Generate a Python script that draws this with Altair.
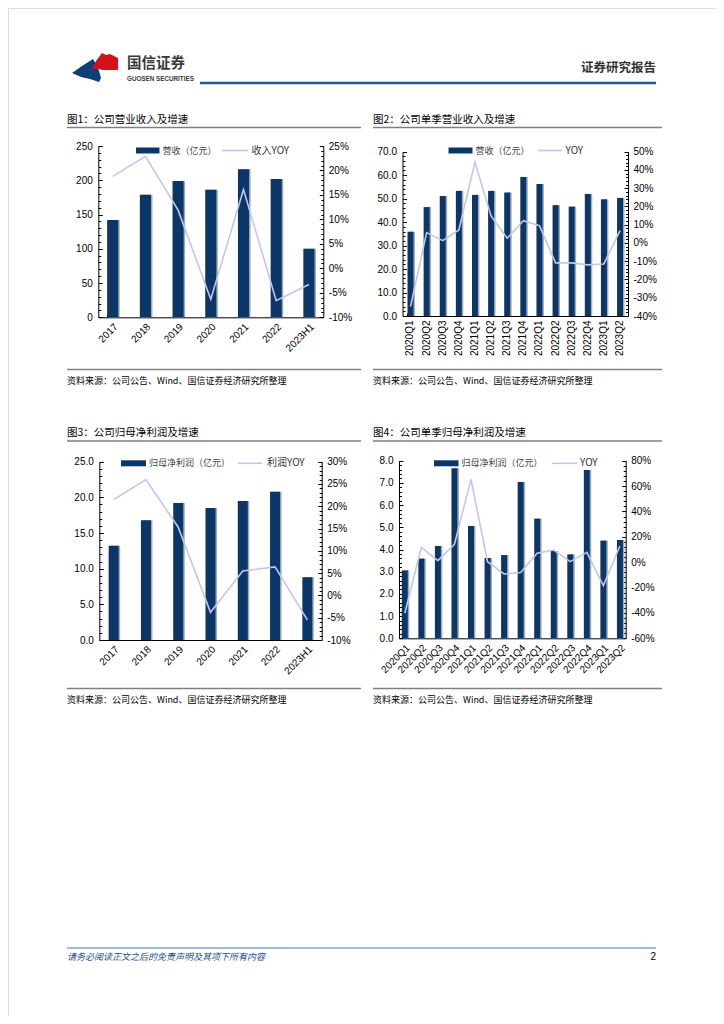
import altair as alt
import numpy as np
import pandas as pd

# ---------------- data ----------------
years = ["2017", "2018", "2019", "2020", "2021", "2022", "2023H1"]
quarters = ["2020Q1", "2020Q2", "2020Q3", "2020Q4", "2021Q1", "2021Q2", "2021Q3",
            "2021Q4", "2022Q1", "2022Q2", "2022Q3", "2022Q4", "2023Q1", "2023Q2"]

annual_revenue = [142, 179, 199, 186, 216, 202, 100]
annual_revenue_yoy = [0.188, 0.229, 0.119, -0.063, 0.161, -0.066, -0.033]

quarterly_revenue = [35.9, 46.4, 51.1, 53.3, 51.6, 53.3, 52.6, 59.2, 56.2, 47.2, 46.6, 52.0, 49.7, 50.3]
quarterly_revenue_yoy = [-0.349, 0.057, 0.013, 0.071, 0.442, 0.148, 0.026, 0.122, 0.095,
                         -0.109, -0.109, -0.120, -0.115, 0.068]

annual_profit = [13.2, 16.8, 19.2, 18.5, 19.5, 20.8, 8.8]
annual_profit_yoy = [0.215, 0.260, 0.153, -0.038, 0.055, 0.064, -0.055]

quarterly_profit = [3.06, 3.59, 4.16, 7.66, 5.06, 3.62, 3.75, 7.04, 5.39, 3.93, 3.78, 7.58, 4.40, 4.43]
quarterly_profit_yoy = [-0.403, 0.117, 0.012, 0.141, 0.653, 0.004, -0.093, -0.082, 0.070,
                        0.096, 0.004, 0.078, -0.185, 0.128]

# ---------------- style ----------------
W, H, M = 708, 1008, 8
NAVY = "#0a3767"
SHADOW = "#a8a8a8"
LAV = "#c4c4f2"
CJK = "Noto Sans CJK SC"
LAT = "Liberation Sans"
GRAY = "#7f7f7f"

ONE = [{"k": 0}]


def txt(s, x, y, size, font=CJK, color="#000", align="left", weight="normal", style="normal",
        baseline="middle"):
    return alt.Chart(alt.Data(values=ONE)).mark_text(
        text=s, font=font, fontSize=size, color=color, align=align, baseline=baseline,
        fontWeight=weight, fontStyle=style,
    ).encode(x=alt.value(x - M), y=alt.value(y - M))


def hrule(x1, x2, y, color, width):
    return alt.Chart(alt.Data(values=ONE)).mark_rule(color=color, strokeWidth=width).encode(
        x=alt.value(x1 - M), x2=alt.value(x2 - M), y=alt.value(y - M))


def rect(x1, x2, y1, y2, color):
    return alt.Chart(alt.Data(values=ONE)).mark_rect(color=color).encode(
        x=alt.value(x1 - M), x2=alt.value(x2 - M), y=alt.value(y1 - M), y2=alt.value(y2 - M))


def seq(a, b, n):
    return [round(float(v), 6) for v in np.linspace(a, b, n)]


def panel(cats, bars, yoy, box, ldom, lmaj, lfmt, rdom, rmaj, pin, pout, angle):
    xl, xr, yt, yb = box
    df = pd.DataFrame({"cat": cats, "v": bars, "r": yoy})
    base = alt.Chart(df)
    xs = alt.Scale(type="band", domain=cats, range=[xl - M, xr - M], paddingInner=pin, paddingOuter=pout)
    ls = alt.Scale(domain=ldom, range=[yb - M, yt - M], nice=False, zero=False)
    rs = alt.Scale(domain=rdom, range=[yb - M, yt - M], nice=False, zero=False)
    lvals = seq(ldom[0], ldom[1], lmaj + 1)
    lminor = seq(ldom[0], ldom[1], lmaj * 5 + 1)
    rvals = seq(rdom[0], rdom[1], rmaj + 1)
    rminor = seq(rdom[0], rdom[1], rmaj * 5 + 1)

    layers = []
    # shadow
    layers.append(base.mark_bar(color=SHADOW, xOffset=1.5).encode(
        x=alt.X("cat:N", scale=xs, axis=None),
        y=alt.Y("v:Q", scale=ls, axis=None)))
    # bars with left labels and x labels
    layers.append(base.mark_bar(color=NAVY).encode(
        x=alt.X("cat:N", scale=xs, title=None, axis=alt.Axis(
            orient="bottom", offset=(yb - M) - H, ticks=False, domain=True, domainColor="#000",
            domainWidth=1, labelAngle=angle, labelFont=LAT, labelFontSize=10, labelColor="#000",
            labelPadding=4, grid=False, labelOverlap=False)),
        y=alt.Y("v:Q", scale=ls, title=None, axis=alt.Axis(
            orient="left", offset=-(xl - M), values=lvals, format=lfmt, ticks=False,
            domain=True, domainColor="#000", domainWidth=1, labelFont=LAT, labelFontSize=10,
            labelColor="#000", labelPadding=6, grid=False, labelOverlap=False))))
    # yoy line with right labels
    layers.append(base.mark_line(color=LAV, strokeWidth=1.6).encode(
        x=alt.X("cat:N", scale=xs, axis=None),
        y=alt.Y("r:Q", scale=rs, title=None, axis=alt.Axis(
            orient="right", offset=(xr - M) - W, values=rvals, format=".0%",
            labelExpr="replace(datum.label, '\u2212', '-')", ticks=False, domain=True,
            domainColor="#000", domainWidth=1, labelFont=LAT, labelFontSize=10,
            labelColor="#000", labelPadding=5, grid=False, labelOverlap=False))))
    # inward ticks
    for vals, sz in ((lvals, 4), (lminor, 2.5)):
        layers.append(base.mark_point(opacity=0).encode(
            y=alt.Y("v:Q", scale=ls, title=None, axis=alt.Axis(
                orient="right", offset=(xl - M) - W, values=vals, labels=False, domain=False,
                ticks=True, tickSize=sz, tickColor="#000", tickWidth=1, grid=False))))
    for vals, sz in ((rvals, 4), (rminor, 2.5)):
        layers.append(base.mark_point(opacity=0).encode(
            y=alt.Y("r:Q", scale=rs, title=None, axis=alt.Axis(
                orient="left", offset=-(xr - M), values=vals, labels=False, domain=False,
                ticks=True, tickSize=sz, tickColor="#000", tickWidth=1, grid=False))))
    layers.append(base.mark_point(opacity=0).encode(
        x=alt.X("cat:N", scale=xs, title=None, axis=alt.Axis(
            orient="top", offset=-(yb - M), labels=False, domain=False, ticks=True,
            tickBand="extent", tickSize=3, tickColor="#000", grid=False))))
    return layers


layers = []

# ---------------- header ----------------
red_path = ("M -0.12 0.08 L 0.04 -0.24 L 0.28 -0.56 L 0.44 -0.48 L 0.6 -0.52 L 0.76 -0.44 "
            "L 0.92 -0.36 L 0.92 0.12 L 0.32 0.12 L 0.12 0.08 Z")
blue_path = ("M -0.92 0.24 L -0.52 -0.04 L -0.08 -0.32 L 0.04 -0.12 L 0.16 0.16 L 0.24 0.44 "
             "L 0.16 0.6 L -0.2 0.48 L -0.56 0.4 Z")
for pth, col in ((blue_path, "#0d3f78"), (red_path, "#d2121a")):
    layers.append(alt.Chart(alt.Data(values=ONE)).mark_point(
        shape=pth, filled=True, color=col, opacity=1, size=2500, strokeWidth=0
    ).encode(x=alt.value(95 - M), y=alt.value(67 - M)))
layers.append(txt("国信证券", 127, 64, 14.5, weight="bold", color="#3a3a3a"))
layers.append(txt("GUOSEN SECURITIES", 127, 78.5, 6.3, font=LAT, weight="bold", color="#3a3a3a"))
layers.append(txt("证券研究报告", 656, 68, 12.5, weight="bold", color="#333", align="right"))
layers.append(hrule(200, 656, 83, "#1f5a96", 2.5))

# ---------------- panel frames ----------------
frames = [
    ("图1：公司营业收入及增速", 67, 361, 119.5, 127.5, 369.5, 380.5),
    ("图2：公司单季营业收入及增速", 373, 662, 119.5, 127.5, 369.5, 380.5),
    ("图3：公司归母净利润及增速", 67, 361, 433, 441, 688.5, 700),
    ("图4：公司单季归母净利润及增速", 373, 662, 433, 441, 688.5, 700),
]
for title, x1, x2, ty, tl, sl, sy in frames:
    layers.append(txt(title, x1, ty, 10.5))
    layers.append(hrule(x1, x2, tl, GRAY, 1.5))
    layers.append(hrule(x1, x2, sl, GRAY, 1.5))
    layers.append(txt("资料来源：公司公告、Wind、国信证券经济研究所整理", x1, sy, 9))

# ---------------- panels ----------------
layers += panel(years, annual_revenue, annual_revenue_yoy, (98.3, 323.3, 146, 317.3),
                [0, 250], 5, "d", [-0.10, 0.25], 7, 0.66, 0.27, 315)
layers += panel(quarters, quarterly_revenue, quarterly_revenue_yoy, (402.5, 628, 151.7, 316),
                [0, 70], 7, ".1f", [-0.40, 0.50], 9, 0.63, 0.31, 270)
layers += panel(years, annual_profit, annual_profit_yoy, (99.3, 321.7, 461.7, 640),
                [0, 25], 5, ".1f", [-0.10, 0.30], 8, 0.69, 0.29, 315)
layers += panel(quarters, quarterly_profit, quarterly_profit_yoy, (399, 625.7, 460.7, 638.3),
                [0, 8], 8, ".1f", [-0.60, 0.80], 7, 0.64, 0.17, 315)

# ---------------- legends ----------------
legends = [
    (136, 159.5, 150.5, "营收（亿元）", 222, 248, "收入YOY", 251.5),
    (448.5, 472.5, 150.5, "营收（亿元）", 538, 562, "YOY", 565.5),
    (121, 146, 463.3, "归母净利润（亿元）", 238, 262, "利润YOY", 267),
    (434, 458.5, 463.3, "归母净利润（亿元）", 552, 577, "YOY", 580),
]
for rx1, rx2, ly, t1, lx1, lx2, t2, t2x in legends:
    layers.append(rect(rx1, rx2, ly - 3, ly + 3, NAVY))
    layers.append(txt(t1, rx2 + 3, ly, 9, color="#444"))
    layers.append(hrule(lx1, lx2, ly, LAV, 1.6))
    layers.append(txt(t2, t2x, ly, 10, color="#333"))

# ---------------- footer ----------------
layers.append(hrule(67, 656, 948, "#4a7ab0", 1))
layers.append(txt("请务必阅读正文之后的免责声明及其项下所有内容", 67, 956.5, 9, color="#1f4e8c", style="italic"))
layers.append(txt("2", 656, 956.5, 10, font=LAT, align="right"))

chart = alt.layer(*layers).resolve_scale(
    x="independent", y="independent"
).resolve_axis(
    x="independent", y="independent"
).properties(
    width=W, height=H, autosize=alt.AutoSizeParams(type="none"), padding=0
).configure_view(stroke=None).configure(background="white")

chart.save("out.html", embed_options={"renderer": "svg", "actions": False})
